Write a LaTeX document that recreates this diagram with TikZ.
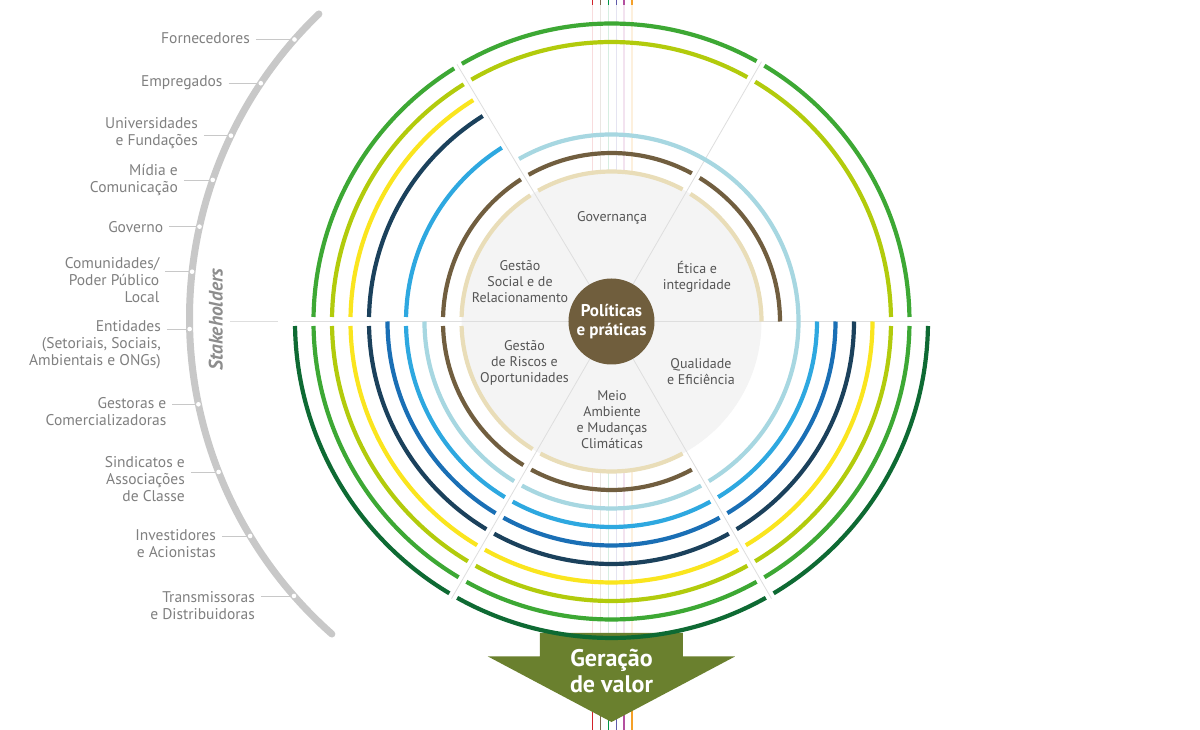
\documentclass[tikz,border=0pt]{standalone}
\usepackage{fontspec}
\setmainfont{PT Sans}
\usepackage{xcolor}
\usepackage{tikz}

\definecolor{band0}{RGB}{233,221,184}
\definecolor{band1}{RGB}{113,94,63}
\definecolor{band2}{RGB}{167,215,225}
\definecolor{band3}{RGB}{46,168,224}
\definecolor{band4}{RGB}{26,111,181}
\definecolor{band5}{RGB}{27,65,92}
\definecolor{band6}{RGB}{250,229,30}
\definecolor{band7}{RGB}{178,203,12}
\definecolor{band8}{RGB}{61,168,52}
\definecolor{band9}{RGB}{14,106,51}
\definecolor{thread0}{RGB}{210,35,42}
\definecolor{thread1}{RGB}{125,105,80}
\definecolor{thread2}{RGB}{0,150,70}
\definecolor{thread3}{RGB}{95,90,170}
\definecolor{thread4}{RGB}{180,80,160}
\definecolor{thread5}{RGB}{245,160,40}
\definecolor{core}{RGB}{112,94,61}
\definecolor{valor}{RGB}{106,128,46}
\definecolor{disc}{RGB}{244,244,244}
\definecolor{spokegray}{RGB}{222,222,222}
\definecolor{stakegray}{RGB}{200,200,200}
\definecolor{labelgray}{RGB}{128,128,128}
\definecolor{themegray}{RGB}{85,85,85}

\tikzset{
  band/.style={line width=4.2pt},
  spoke/.style={draw=spokegray, line width=0.8pt},
  theme/.style={align=center, text=themegray, inner sep=0pt, font=\fontsize{14}{16}\selectfont},
  stakeholder/.style={anchor=east, align=right, inner xsep=6pt, inner ysep=0pt, text=labelgray, font=\fontsize{15.5}{17}\selectfont},
  pin/.style={circle, fill=white, inner sep=0pt, minimum size=4.6pt},
  leader/.style={draw=stakegray, line width=0.7pt},
}

\begin{document}
\begin{tikzpicture}[x=1pt, y=1pt]
\useasboundingbox (-611.5,-408.5) rectangle (588.5,321.5);
\fill[white] (-611.5,-408.5) rectangle (588.5,321.5);

% threads through the wheel
\foreach \i in {0,...,5}{
  \draw[thread\i!16, line width=1.3pt] (-18.8+7.86*\i,321.5) -- (-18.8+7.86*\i,-330);
  \draw[thread\i, line width=1.5pt] (-18.8+7.86*\i,321.5) -- (-18.8+7.86*\i,316);
  \draw[thread\i, line width=1.5pt] (-18.8+7.86*\i,-370) -- (-18.8+7.86*\i,-408.5);
}

% arrow
\fill[valor] (-71.5,-311.5) -- (71.5,-311.5) -- (71.5,-335) -- (123.5,-335) -- (0,-400.5) -- (-123.5,-335) -- (-71.5,-335) -- cycle;
\node[text=white, align=center, font=\bfseries\fontsize{24}{26}\selectfont] (valortext) at (0,-349) {Geração\\de valor};

% disc and spokes
\fill[disc] (0,0) circle[radius=150];
\foreach \a/\r in {0/318, 60/300, 121/300, 180/318, 240/320, 300/320}
  \draw[spoke] (0,0) -- (\a:\r);

% bands: ring / from / to / gap at start / gap at end
\foreach \k/\a/\b/\ga/\gb in {
  0/0/60/0/1, 0/60/121/1/1, 0/121/180/1/1, 0/180/240/1/1, 0/240/300/1/1,
  1/0/60/0/1, 1/60/121/1/1, 1/121/180/1/1, 1/180/240/1/1, 1/240/300/1/1,
  2/-60/121/1/1, 2/180/240/0/1, 2/240/300/1/1,
  3/121/180/1/1, 3/180/240/1/1, 3/240/300/1/1, 3/300/360/1/0,
  4/180/240/0/1, 4/240/300/1/1, 4/300/360/1/0,
  5/121/180/1/1, 5/180/240/1/1, 5/240/300/1/1, 5/300/360/1/0,
  6/121/180/1/1, 6/180/240/1/1, 6/240/300/1/1, 6/300/360/1/0,
  7/0/60/1/1, 7/60/121/1/1, 7/121/180/1/1, 7/180/240/1/1, 7/240/300/1/1, 7/300/360/1/1,
  8/0/60/1/1, 8/60/121/1/1, 8/121/180/1/1, 8/180/240/1/1, 8/240/300/1/1, 8/300/360/1/1,
  9/180/240/1/1, 9/240/300/1/1, 9/300/360/1/1}{
  \pgfmathsetmacro\r{150+18.5*\k}
  \pgfmathsetmacro\sa{\a+\ga*258/\r}
  \pgfmathsetmacro\ea{\b-\gb*258/\r}
  \draw[band, draw=band\k] (\sa:\r) arc[start angle=\sa, end angle=\ea, radius=\r];
}

% core
\node[circle, fill=core, minimum size=86pt, inner sep=0pt, text=white, align=center,
  font=\bfseries\fontsize{17}{19}\selectfont] (core) at (0,0) {Políticas\\e práticas};

\node[theme] (gov) at (0.5,103.5) {Governança};
\node[theme] (etica) at (85.5,44.5) {Ética e\\integridade};
\node[theme] (social) at (-91.5,39.5) {Gestão\\Social e de\\Relacionamento};
\node[theme] (riscos) at (-87,-41.5) {Gestão\\de Riscos e\\Oportunidades};
\node[theme] (meio) at (0.5,-98.5) {Meio\\Ambiente\\e Mudanças\\Climáticas};
\node[theme] (qualidade) at (89.5,-50.5) {Qualidade\\e Eficiência};

% stakeholders
\begin{scope}[shift={(0,3.5)}]
\foreach \i/\a in {1/138.7, 2/146.2, 3/154.4, 4/160.9, 5/167.5, 6/173.7, 7/181.5, 8/191.8, 9/201.4, 10/211.1, 11/221.2}
  \coordinate (p\i) at (\a:422);
\end{scope}

\node[stakeholder] (l1) at (-355.5,283) {Fornecedores};
\node[stakeholder] (l2) at (-382.8,238.8) {Empregados};
\node[stakeholder] (l3) at (-407.5,188.5) {Universidades\\e Fundações};
\node[stakeholder] (l4) at (-427.5,141.2) {Mídia e\\Comunicação};
\node[stakeholder] (l5) at (-442.2,94.8) {Governo};
\node[stakeholder] (l6) at (-446,41.7) {Comunidades/\\Poder Público\\Local};
\node[stakeholder] (l7) at (-444.5,-23.3) {Entidades\\(Setoriais, Sociais,\\Ambientais e ONGs)};
\node[stakeholder] (l8) at (-439,-90.2) {Gestoras e\\Comercializadoras};
\node[stakeholder] (l9) at (-420.5,-157.5) {Sindicatos e\\Associações\\de Classe};
\node[stakeholder] (l10) at (-389.5,-222) {Investidores\\e Acionistas};
\node[stakeholder] (l11) at (-350.5,-283.8) {Transmissoras\\e Distribuidoras};

\foreach \i in {1,...,11}
  \draw[leader] (l\i.east |- p\i) -- (p\i);

\begin{scope}[shift={(0,3.5)}]
\draw[stakegray, line width=7pt, line cap=round] (133.9:422) arc[start angle=133.9, end angle=228.5, radius=422];
\end{scope}
\foreach \i in {1,...,11}
  \node[pin] at (p\i) {};

\node[rotate=90, anchor=south, inner sep=0pt, text=labelgray!90,
  font=\bfseries\itshape\fontsize{19.5}{19.5}\selectfont] (stk) at (-388.5,2) {Stakeholders};
\coordinate (stkend) at (-333.5,0);
\draw[spoke, shorten <=7pt] (stk.south |- stkend) -- (stkend);
\end{tikzpicture}
\end{document}
